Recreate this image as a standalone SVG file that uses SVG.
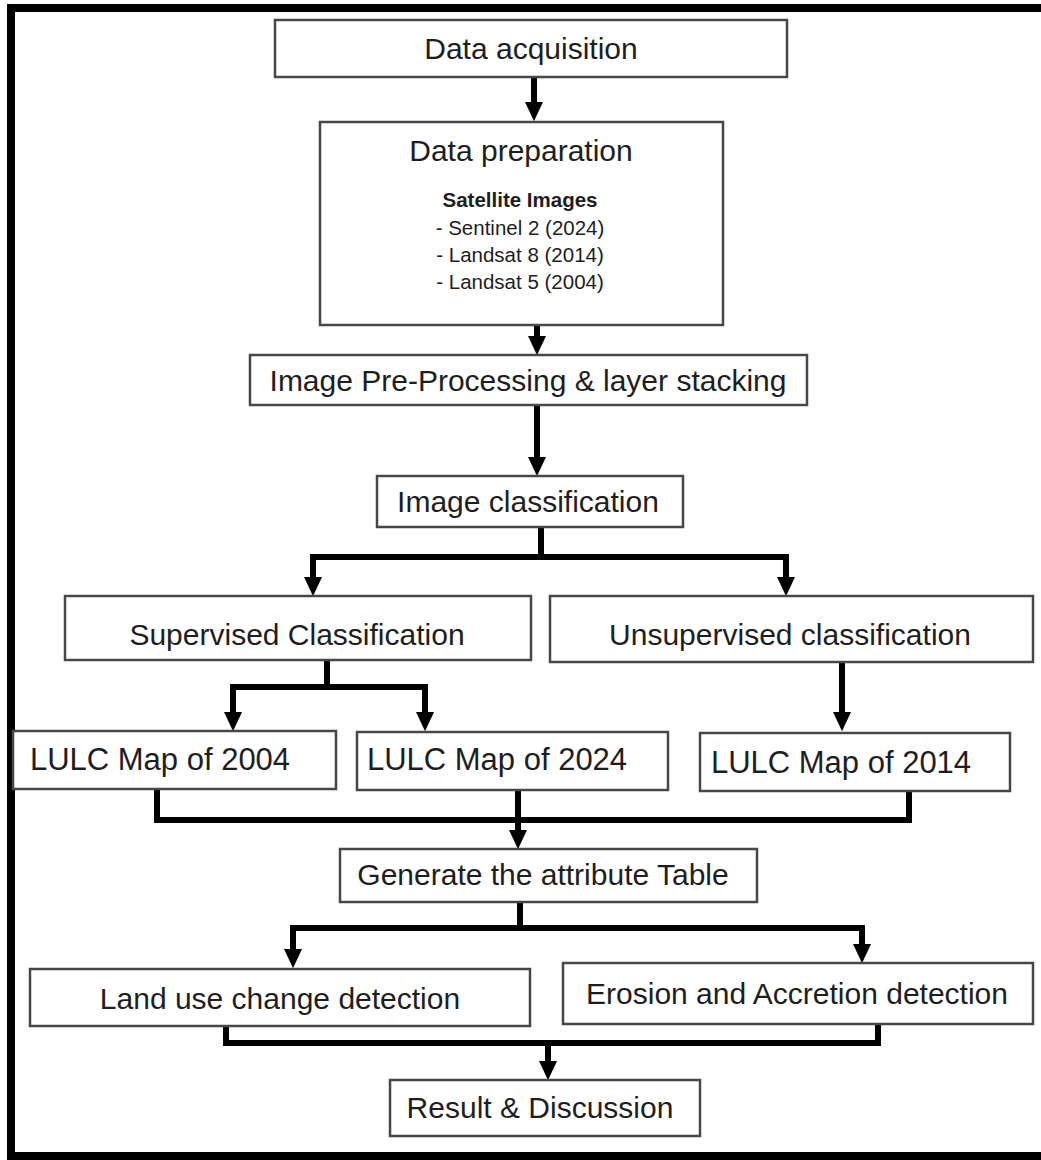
<svg xmlns="http://www.w3.org/2000/svg" width="1041" height="1160" viewBox="0 0 1041 1160">
<style>
.box{fill:#fff;stroke:#474747;stroke-width:2.5}
.t{font-family:"Liberation Sans",Arial,sans-serif;font-size:30px;fill:#1e1e1e;text-anchor:middle}
.s{font-family:"Liberation Sans",Arial,sans-serif;font-size:20.5px;fill:#1e1e1e;text-anchor:middle}
.b{font-weight:bold}
.c{fill:none;stroke:#000;stroke-width:6}
</style>
<defs>
<marker id="ah" markerUnits="strokeWidth" markerWidth="3.2" markerHeight="3" viewBox="0 0 3.2 3" refX="0" refY="1.5" orient="auto">
<path d="M0,0 L3.2,1.5 L0,3 Z" fill="#000"/>
</marker>
</defs>
<rect width="1041" height="1160" fill="#fff"/>
<g id="frame" fill="#000">
<rect x="7" y="4" width="8" height="1156"/>
<rect x="7" y="4" width="1034" height="8"/>
<rect x="7" y="1152" width="1034" height="8"/>
</g>
<g id="connectors">
<path class="c" d="M534 77 V102" marker-end="url(#ah)"/>
<path class="c" d="M537 325 V336" marker-end="url(#ah)"/>
<path class="c" d="M537 405 V457" marker-end="url(#ah)"/>
<path class="c" d="M541 527 V557"/>
<path class="c" d="M313 577 V557 H786 V577"/>
<path class="c" d="M313 570 V577" marker-end="url(#ah)"/>
<path class="c" d="M786 570 V577" marker-end="url(#ah)"/>
<path class="c" d="M327 660 V687"/>
<path class="c" d="M233 712 V687 H425 V712"/>
<path class="c" d="M233 705 V712" marker-end="url(#ah)"/>
<path class="c" d="M425 705 V712" marker-end="url(#ah)"/>
<path class="c" d="M842 662 V712" marker-end="url(#ah)"/>
<path class="c" d="M157 789 V820 H909 V791"/>
<path class="c" d="M518 790 V830" marker-end="url(#ah)"/>
<path class="c" d="M520 902 V928"/>
<path class="c" d="M293 949 V928 H862 V944"/>
<path class="c" d="M293 942 V949" marker-end="url(#ah)"/>
<path class="c" d="M862 937 V944" marker-end="url(#ah)"/>
<path class="c" d="M226 1026 V1043 H878 V1024"/>
<path class="c" d="M548 1043 V1061" marker-end="url(#ah)"/>
</g>
<g id="n-acq"><rect class="box" x="275" y="20" width="512" height="57"/><text class="t" x="531" y="59">Data acquisition</text></g>
<g id="n-prep"><rect class="box" x="320" y="122" width="403" height="203"/>
<text class="t" x="521" y="161">Data preparation</text>
<text class="s b" x="520" y="207">Satellite Images</text>
<text class="s" x="520" y="235">- Sentinel 2 (2024)</text>
<text class="s" x="520" y="262">- Landsat 8 (2014)</text>
<text class="s" x="520" y="289">- Landsat 5 (2004)</text></g>
<g id="n-pre"><rect class="box" x="250" y="355" width="557" height="50"/><text class="t" x="528" y="391">Image Pre-Processing &amp; layer stacking</text></g>
<g id="n-cls"><rect class="box" x="377" y="476" width="306" height="51"/><text class="t" x="528" y="512">Image classification</text></g>
<g id="n-sup"><rect class="box" x="65" y="596" width="466" height="64"/><text class="t" x="297" y="645">Supervised Classification</text></g>
<g id="n-unsup"><rect class="box" x="550" y="596" width="483" height="66"/><text class="t" x="790" y="645">Unsupervised classification</text></g>
<g id="n-l2004"><rect class="box" x="13" y="731" width="323" height="58"/><text class="t" x="160" y="770" style="font-size:31px">LULC Map of 2004</text></g>
<g id="n-l2024"><rect class="box" x="357" y="732" width="311" height="58"/><text class="t" x="497" y="770" style="font-size:31px">LULC Map of 2024</text></g>
<g id="n-l2014"><rect class="box" x="700" y="733" width="310" height="58"/><text class="t" x="841" y="773" style="font-size:31px">LULC Map of 2014</text></g>
<g id="n-gen"><rect class="box" x="340" y="849" width="417" height="53"/><text class="t" x="543" y="885">Generate the attribute Table</text></g>
<g id="n-land"><rect class="box" x="30" y="969" width="500" height="57"/><text class="t" x="280" y="1009">Land use change detection</text></g>
<g id="n-ero"><rect class="box" x="563" y="963" width="470" height="61"/><text class="t" x="797" y="1004">Erosion and Accretion detection</text></g>
<g id="n-res"><rect class="box" x="390" y="1080" width="310" height="56"/><text class="t" x="540" y="1118">Result &amp; Discussion</text></g>
</svg>
